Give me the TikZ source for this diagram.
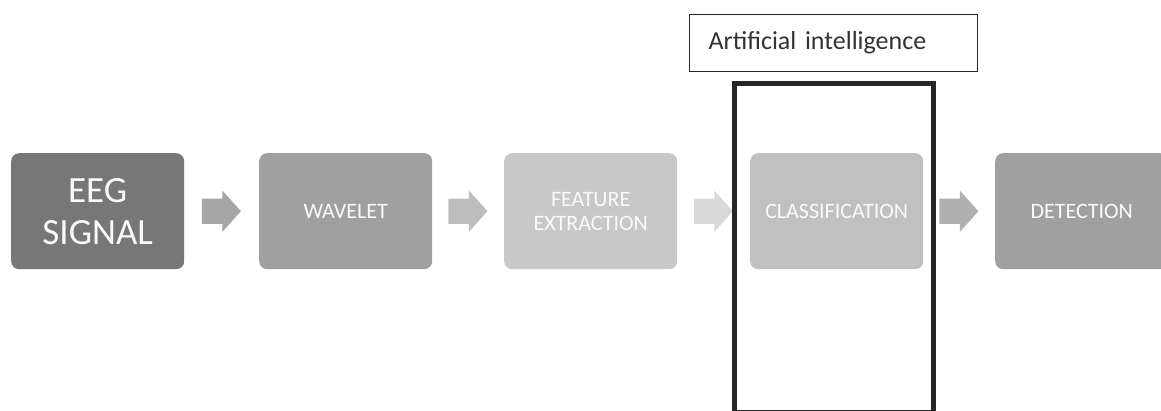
\documentclass[tikz,border=0pt]{standalone}
\usepackage{fontspec}
\setmainfont{Carlito}
\usetikzlibrary{shapes.arrows,calc}
\definecolor{boxA}{HTML}{777777}
\definecolor{boxB}{HTML}{A0A0A0}
\definecolor{boxC}{HTML}{C8C8C8}
\definecolor{boxD}{HTML}{C0C0C0}
\definecolor{arrA}{HTML}{A6A6A6}
\definecolor{arrB}{HTML}{BDBDBD}
\definecolor{arrC}{HTML}{D9D9D9}
\definecolor{arrD}{HTML}{B0B0B0}
\tikzset{
  stage/.style={rounded corners=8pt, minimum width=173pt, minimum height=116pt,
    inner sep=0pt, text=white!96!gray, align=center, anchor=north west,
    font=\fontsize{22}{24}\selectfont},
  blockarrow/.style={single arrow, draw=none, minimum height=39pt,
    inner xsep=0pt, inner ysep=12.5pt, single arrow head extend=8pt,
    single arrow tip angle=96, anchor=tip},
}
\begin{document}
\begin{tikzpicture}[x=1pt,y=-1pt]
\useasboundingbox (0,0) rectangle (1161,410);
\fill[white] (0,0) rectangle (1161,410);
% processing stages
\node[stage, fill=boxA, font=\fontsize{37}{42}\selectfont] (eeg) at (11,153) {EEG\\SIGNAL};
\node[stage, fill=boxB] (wav) at (259,153) {WAVELET};
\node[stage, fill=boxC] (feat) at (504,153) {FEATURE\\EXTRACTION};
\node[stage, fill=boxD] (cls) at (750,153) {CLASSIFICATION};
\node[stage, fill=boxB] (det) at (995,153) {DETECTION};
% block arrows between stages, centred in each gap (tip half a length past the middle)
\node[blockarrow, fill=arrA] (a1) at ($(eeg.east)!0.5!(wav.west)+(19.5,0)$) {};
\node[blockarrow, fill=arrB] (a2) at ($(wav.east)!0.5!(feat.west)+(19.5,0)$) {};
\node[blockarrow, fill=arrC] (a3) at ($(feat.east)!0.5!(cls.west)+(19.5,0)$) {};
\node[blockarrow, fill=arrD] (a4) at ($(cls.east)!0.5!(det.west)+(19.5,0)$) {};
% artificial intelligence frame
\draw[line width=5pt, black!85] (734,83) rectangle (933,412);
\node[draw=black!85, line width=1.3pt, minimum width=288pt, minimum height=57pt,
  anchor=north west, inner sep=0pt, text=black!80, font=\fontsize{26}{28}\selectfont,
  text width=250pt, align=left] (ai) at (689,14) {Artificial intelligence};
\end{tikzpicture}
\end{document}
